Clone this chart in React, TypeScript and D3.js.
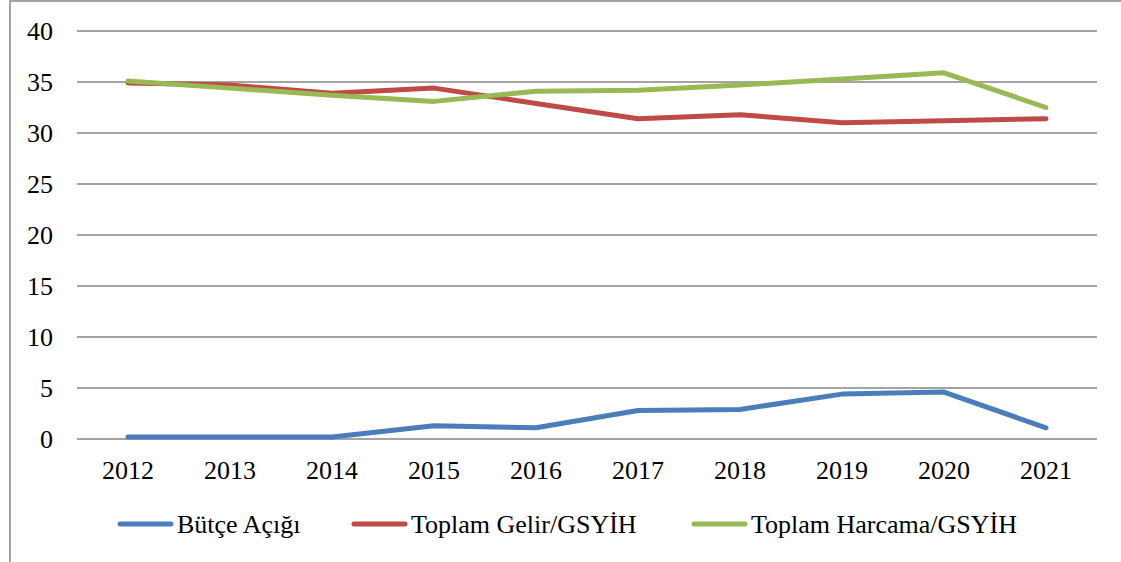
import * as d3 from 'd3';
import React from 'react';

const years = ['2012', '2013', '2014', '2015', '2016', '2017', '2018', '2019', '2020', '2021'];
const butceAcigi = [0.2, 0.2, 0.2, 1.3, 1.1, 2.8, 2.9, 4.4, 4.6, 1.1];
const toplamGelir = [34.9, 34.7, 33.9, 34.4, 32.9, 31.4, 31.8, 31.0, 31.2, 31.4];
const toplamHarcama = [35.1, 34.4, 33.7, 33.1, 34.1, 34.2, 34.7, 35.3, 35.9, 32.5];
const yTicks = [0, 5, 10, 15, 20, 25, 30, 35, 40];

const seriesNames = ['Bütçe Açığı', 'Toplam Gelir/GSYİH', 'Toplam Harcama/GSYİH'];
const seriesColors = ['#4a7ebb', '#be4b48', '#98b954'];
const seriesValues = [butceAcigi, toplamGelir, toplamHarcama];

const width = 1121;
const height = 562;
const margin = { top: 31, right: 24, bottom: 123, left: 77 };
const textStyle = { fontFamily: "'Liberation Serif', 'Times New Roman', serif", fontSize: '26px' };

// legend swatch x positions
const legendX = [118, 352, 692];

function App(): any {
  const xScale = d3
    .scalePoint<string>()
    .domain(years)
    .range([margin.left, width - margin.right])
    .padding(0.5);

  const yScale = d3
    .scaleLinear()
    .domain([0, 40])
    .range([height - margin.bottom, margin.top]);

  const line = d3
    .line<number>()
    .x((_, i) => xScale(years[i]) as number)
    .y((d) => yScale(d));

  return (
    <svg
      width={width}
      height={height}
      style={{ position: 'absolute', left: 0, top: 0, background: '#fff' }}
    >
      <rect x={10} y={1} width={width + 10} height={height + 10} fill="#fff" stroke="#868686" strokeWidth={1.5} />

      {yTicks.map((t) => (
        <g key={t}>
          <line
            x1={margin.left}
            x2={width - margin.right}
            y1={yScale(t)}
            y2={yScale(t)}
            stroke="#868686"
            strokeWidth={1.5}
          />
          <text x={53} y={yScale(t)} dy="0.35em" textAnchor="end" style={textStyle} fill="#000">
            {t}
          </text>
        </g>
      ))}

      {years.map((y) => (
        <text key={y} x={xScale(y)} y={470} dy="0.35em" textAnchor="middle" style={textStyle} fill="#000">
          {y}
        </text>
      ))}

      {seriesValues.map((vals, i) => (
        <path
          key={seriesNames[i]}
          d={line(vals) as string}
          fill="none"
          stroke={seriesColors[i]}
          strokeWidth={5}
          strokeLinejoin="round"
          strokeLinecap="round"
        />
      ))}

      {seriesNames.map((name, i) => (
        <g key={name} transform={`translate(${legendX[i]},524)`}>
          <line x1={2} x2={53} y1={0} y2={0} stroke={seriesColors[i]} strokeWidth={5} strokeLinecap="round" />
          <text x={59} y={0} dy="0.35em" style={textStyle} fill="#000">
            {name}
          </text>
        </g>
      ))}
    </svg>
  );
}

export default App;
